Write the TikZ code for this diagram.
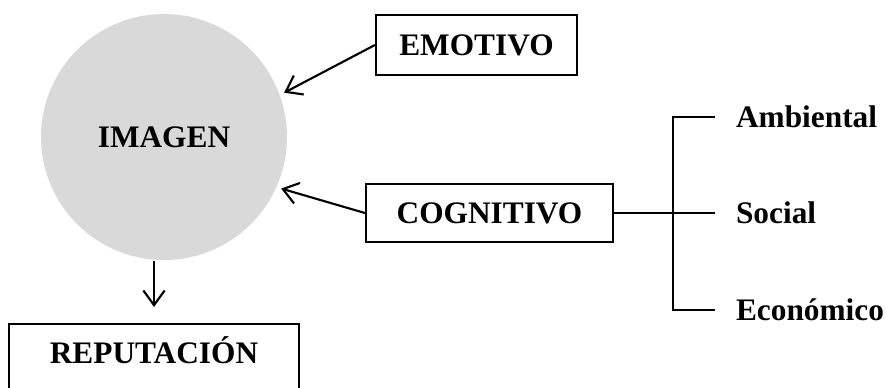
\documentclass[tikz,border=0pt]{standalone}
\usepackage{fontspec}
\setmainfont{Liberation Serif}
\usepackage{tikz}
\usetikzlibrary{arrows.meta}
\usetikzlibrary{positioning}
\definecolor{circgray}{HTML}{D9D9D9}
\tikzset{>={Straight Barb[length=11pt,width=16pt]}}
\tikzset{lbl/.style={font=\fontsize{23.5}{28}\selectfont\bfseries,inner sep=0pt,text height=15.5pt,text depth=0pt}}

\begin{document}
\begin{tikzpicture}[x=0.75pt,y=-0.75pt,line width=1.6pt]
    \useasboundingbox (0,0) rectangle (886,387);
    \node at (164, 137) [circle,fill=circgray,minimum size=184.5pt,lbl] (img) {IMAGEN};
    \node at (476.5, 45) [rectangle,draw,lbl,minimum width=150.75pt,minimum height=45pt] (emo) {EMOTIVO};
    \node at (489.5, 213) [rectangle,draw,lbl,minimum width=185.25pt,minimum height=43.5pt] (cog) {COGNITIVO};
    \node at (154, 363) [rectangle,draw,lbl,anchor=base,minimum width=217.5pt,text height=29.25pt,text depth=32pt] (rep) {REPUTACIÓN};
    \node at (735, 117) [lbl,anchor=west] (amb) {Ambiental};
    \node at (735, 213) [lbl,anchor=west] (soc) {Social};
    \node at (735, 310) [lbl,anchor=west] (eco) {Económico};
    \coordinate (fork) at (673, 213);
    \draw [->,shorten >=3pt] (emo.west) to (img.20);
    \draw [->,shorten >=3pt] (cog.west) to (img.-24);
    \draw [->,shorten >=12pt] (rep.north |- img.south) to (rep.north);
    \draw (cog.east) to (fork);
    \draw (fork) to ([xshift=-15pt]soc.west);
    \draw ([xshift=-15pt]amb.west) -| (fork) |- ([xshift=-15pt]eco.west);
  \end{tikzpicture}
\end{document}
